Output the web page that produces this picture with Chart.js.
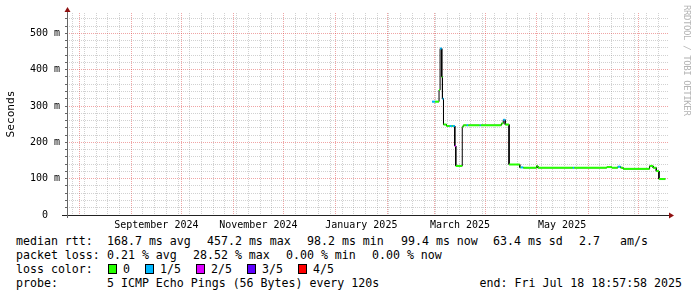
<!DOCTYPE html>
<html>
<head>
<meta charset="utf-8">
<script src="https://cdn.jsdelivr.net/npm/chart.js@4.4.1/dist/chart.umd.min.js"></script>
<style>
  body { margin: 0; background: #fff; }
  #wrap { position: relative; width: 697px; height: 297px; overflow: hidden; font-family: 'DejaVu Sans Mono', monospace; }
  #chart { position: absolute; left: 0; top: 0; }
  .t { position: absolute; font-size: 11.6px; line-height: 14px; white-space: pre; color: #000; }
  .box { position: absolute; width: 9px; height: 10px; border: 1px solid #000; box-sizing: border-box; }
  #mark { position: absolute; left: 682px; top: 5px; writing-mode: vertical-rl; font-size: 9px; letter-spacing: -0.4px; color: #b4b4b4; white-space: pre; }
</style>
</head>
<body>
<div id="wrap">
  <canvas id="chart" width="697" height="232"></canvas>
  <div id="mark">RRDTOOL / TOBI OETIKER</div>
  <div id="legend"></div>
</div>
<script>
// median rtt (ms) as a step series: each step starts at stepTimes[i]
const stepTimes = [
  '2025-02-27T19:00', '2025-03-01T12:00', '2025-03-03T23:00', '2025-03-04T14:00',
  '2025-03-05T14:00', '2025-03-06T00:00', '2025-03-06T15:00', '2025-03-08T10:00',
  '2025-03-10T09:00', '2025-03-11T14:00', '2025-03-12T04:00', '2025-03-13T09:00',
  '2025-03-13T23:00', '2025-03-17T20:00', '2025-03-18T11:00', '2025-03-20T12:00',
  '2025-03-21T10:00', '2025-03-28T07:00', '2025-03-28T22:00', '2025-04-10T06:00',
  '2025-04-11T08:00', '2025-04-12T12:00', '2025-04-14T19:00', '2025-04-21T05:00',
  '2025-04-21T19:00', '2025-04-23T07:00', '2025-05-01T05:00', '2025-05-02T00:00',
  '2025-05-22T22:00', '2025-05-23T19:00', '2025-06-12T05:00', '2025-06-15T05:00',
  '2025-06-18T19:00', '2025-06-20T12:00', '2025-06-22T00:00', '2025-07-07T19:00',
  '2025-07-09T22:00', '2025-07-11T19:00', '2025-07-13T09:00'
];
const stepRtt = [
  312, 312, 344, 458,
  380, 320, 249, 245,
  245, 245, 245, 190,
  135, 243, 247, 247,
  247, 247, 247, 252,
  262, 249, 139, 131,
  131, 130, 135, 130,
  130, 130, 132, 130,
  133, 130, 127, 135,
  130, 121, 99
];
const stepLoss = [
  1, 0, 0, 1,
  0, 1, 0, 0,
  1, 0, 1, 2,
  0, 0, 0, 1,
  0, 1, 0, 0,
  1, 0, 0, 0,
  1, 0, 0, 0,
  1, 0, 0, 0,
  1, 0, 0, 0,
  0, 0, 0
];
const lastSample = '2025-07-17T05:00';

const lossColors = ['#26ff00', '#00b8ff', '#dd00ff', '#5e00ff', '#ff0000'];
const lossLabels = ['0', '1/5', '2/5', '3/5', '4/5'];

const xStart = '2024-07-24T15:00';
const xEnd = '2025-07-18T18:57:58';
const monthStarts = [
  '2024-08-01', '2024-09-01', '2024-10-01', '2024-11-01', '2024-12-01', '2025-01-01',
  '2025-02-01', '2025-03-01', '2025-04-01', '2025-05-01', '2025-06-01', '2025-07-01'
];
const monthLabels = ['September 2024', 'November 2024', 'January 2025', 'March 2025', 'May 2025'];
const monthLabelAt = ['2024-09-16', '2024-11-16', '2025-01-16T12:00', '2025-03-16T12:00', '2025-05-16T12:00'];
const firstSunday = '2024-07-28';

const yMax = 556;
const yMajor = [0, 100, 200, 300, 400, 500];
const yMinorStep = 20;

const MONO = "'DejaVu Sans Mono', monospace";
const GRID_MINOR = 'rgba(128, 128, 128, 0.36)';
const GRID_MAJOR = 'rgba(220, 40, 40, 0.42)';
const ARROW = '#8f1010';

const t = s => Date.parse(s.length === 10 ? s + 'T00:00:00Z' : s + 'Z');
const DAY = 86400000;

// line points: duplicate x at each step so vertical and horizontal parts are separate segments
const points = [];
const segLoss = [];
stepTimes.forEach((s, i) => {
  const x = t(s);
  if (i > 0) {
    points.push({ x, y: stepRtt[i - 1] });
    segLoss.push(null);
  }
  points.push({ x, y: stepRtt[i] });
  segLoss.push(stepLoss[i]);
});
points.push({ x: t(lastSample), y: stepRtt[stepRtt.length - 1] });
segLoss.push(null);

// x ticks: weekly minor grid, monthly major grid, mid-month labels
const xKind = new Map();
for (let v = t(firstSunday); v < t(xEnd); v += 7 * DAY) xKind.set(v, 'minor');
monthStarts.forEach(s => xKind.set(t(s), 'major'));
const xLabelMap = new Map();
monthLabelAt.forEach((s, i) => { xKind.set(t(s), 'label'); xLabelMap.set(t(s), monthLabels[i]); });
const xTicks = [...xKind.keys()].sort((a, b) => a - b);

const yTicks = [];
for (let v = 0; v <= yMax; v += yMinorStep) yTicks.push(v);

const axisArrows = {
  id: 'axisArrows',
  afterDraw(chart) {
    const { ctx, chartArea: a } = chart;
    const x0 = Math.round(a.left) + 0.5;
    const y0 = Math.round(a.bottom) + 0.5;
    ctx.save();
    ctx.lineWidth = 1;
    ctx.strokeStyle = '#222';
    ctx.beginPath();
    ctx.moveTo(a.left - 5, y0);
    ctx.lineTo(a.right + 2, y0);
    ctx.stroke();
    ctx.strokeStyle = '#666';
    ctx.beginPath();
    ctx.moveTo(x0, a.bottom + 3);
    ctx.lineTo(x0, a.top - 2);
    ctx.stroke();
    ctx.fillStyle = ARROW;
    ctx.beginPath();
    ctx.moveTo(x0 - 3, a.top - 1);
    ctx.lineTo(x0 + 3, a.top - 1);
    ctx.lineTo(x0, a.top - 6);
    ctx.closePath();
    ctx.fill();
    ctx.beginPath();
    ctx.moveTo(a.right + 1, y0 - 3);
    ctx.lineTo(a.right + 1, y0 + 3);
    ctx.lineTo(a.right + 6, y0);
    ctx.closePath();
    ctx.fill();
    ctx.restore();
  }
};

new Chart(document.getElementById('chart'), {
  type: 'line',
  data: {
    datasets: [
      {
        label: 'loss',
        data: points,
        order: 0,
        borderWidth: 2,
        borderColor: lossColors[0],
        segment: {
          borderColor: c => segLoss[c.p0DataIndex] == null ? 'rgba(0,0,0,0)' : lossColors[segLoss[c.p0DataIndex]],
        },
        pointRadius: 0,
        tension: 0,
        fill: false,
      },
      {
        label: 'median',
        data: points,
        order: 1,
        borderWidth: 1,
        borderColor: '#000',
        pointRadius: 0,
        tension: 0,
        fill: false,
      },
    ],
  },
  options: {
    responsive: false,
    devicePixelRatio: 1,
    animation: false,
    events: [],
    layout: { padding: { left: 0, right: 29, top: 13, bottom: 0 } },
    plugins: { legend: { display: false }, tooltip: { enabled: false } },
    scales: {
      x: {
        type: 'linear',
        min: t(xStart),
        max: t(xEnd),
        bounds: 'data',
        afterBuildTicks: s => { s.ticks = xTicks.map(v => ({ value: v })); },
        afterFit: s => { s.height = 17; },
        ticks: {
          autoSkip: false,
          maxRotation: 0,
          minRotation: 0,
          padding: 4,
          color: '#000',
          font: { family: MONO, size: 10 },
          callback: v => xLabelMap.get(v) || '',
        },
        grid: {
          drawTicks: false,
          color: c => {
            const k = xKind.get(c.tick.value);
            return k === 'major' ? GRID_MAJOR : k === 'minor' ? GRID_MINOR : 'rgba(0,0,0,0)';
          },
        },
        border: { display: false, dash: [1, 1] },
      },
      y: {
        type: 'linear',
        min: 0,
        max: yMax,
        bounds: 'data',
        afterBuildTicks: s => { s.ticks = yTicks.map(v => ({ value: v })); },
        afterFit: s => { s.width = 67; },
        ticks: {
          autoSkip: false,
          crossAlign: 'center',
          padding: 5,
          color: '#000',
          font: { family: MONO, size: 10 },
          callback: v => yMajor.includes(v) ? (v ? v + ' m' : '0') : '',
        },
        grid: {
          drawTicks: true,
          tickLength: 2,
          tickColor: '#666',
          color: c => yMajor.includes(c.tick.value) ? GRID_MAJOR : GRID_MINOR,
        },
        border: { display: false, dash: [1, 1] },
        title: {
          display: true,
          text: 'Seconds',
          color: '#000',
          font: { family: MONO, size: 11.2, weight: 'normal' },
          padding: { top: 4, bottom: 0 },
        },
      },
    },
  },
  plugins: [axisArrows],
});

// legend rows (text at measured column positions)
const legendRows = [
  [[16, 'median rtt:'], [107, '168.7 ms avg'], [207, '457.2 ms max'], [307, '98.2 ms min'],
   [401, '99.4 ms now'], [493, '63.4 ms sd'], [579, '2.7'], [620, 'am/s']],
  [[16, 'packet loss:'], [107, '0.21 % avg'], [193, '28.52 % max'], [286, '0.00 % min'], [372, '0.00 % now']],
  [[16, 'loss color:']],
  [[16, 'probe:'], [107, '5 ICMP Echo Pings (56 Bytes) every 120s']],
];
const rowTop = [234, 248, 262, 276];
const lossBoxX = [108, 145, 196, 247, 298];
const legend = document.getElementById('legend');
const addText = (x, y, s, right) => {
  const d = document.createElement('div');
  d.className = 't';
  d.style.top = y + 'px';
  if (right) d.style.right = (697 - x) + 'px'; else d.style.left = x + 'px';
  d.textContent = s;
  legend.appendChild(d);
};
legendRows.forEach((row, r) => row.forEach(([x, s]) => addText(x, rowTop[r], s)));
lossBoxX.forEach((x, i) => {
  const b = document.createElement('div');
  b.className = 'box';
  b.style.left = x + 'px';
  b.style.top = (rowTop[2] + 2) + 'px';
  b.style.background = lossColors[i];
  legend.appendChild(b);
  addText(x + 15, rowTop[2], lossLabels[i]);
});
addText(682, rowTop[3], 'end: Fri Jul 18 18:57:58 2025', true);
</script>
</body>
</html>
